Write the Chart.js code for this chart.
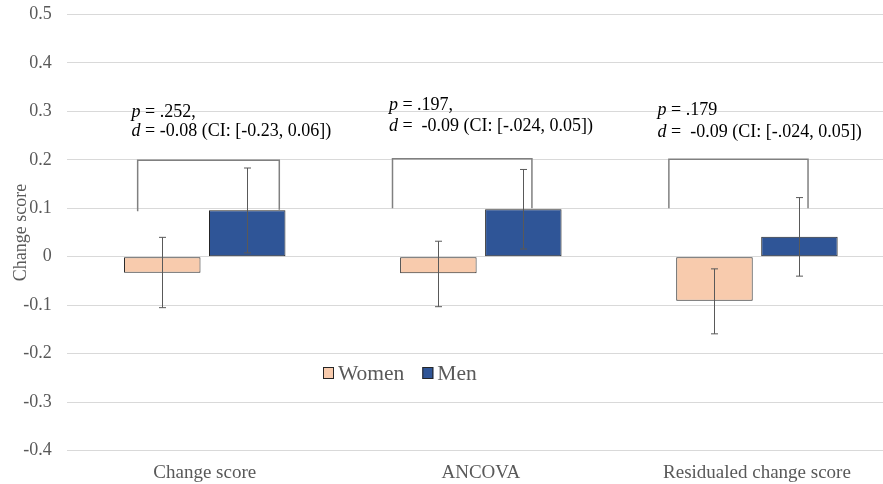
<!DOCTYPE html>
<html>
<head>
<meta charset="utf-8">
<script src="https://cdn.jsdelivr.net/npm/chart.js@4.4.1/dist/chart.umd.min.js"></script>
<style>
    html, body { margin: 0; padding: 0; overflow: hidden; background: #fff; }
    #wrap { position: relative; width: 896px; height: 484px; }
</style>
</head>
<body>
<div id="wrap"><canvas id="chart"></canvas></div>
<script>
const categories = ["Change score", "ANCOVA", "Residualed change score"];
const yTicks = [-0.4, 0.5, 0.1];

const womenMeans = [-0.033, -0.034, -0.091];
const womenLow = [-0.105, -0.103, -0.159];
const womenHigh = [0.040, 0.032, -0.025];

const menMeans = [0.096, 0.098, 0.041];
const menLow = [0.008, 0.016, -0.040];
const menHigh = [0.183, 0.180, 0.122];

// significance brackets (x as fraction of a category width, y in data units)
const bracketLeftX = [-0.243, -0.320, -0.319];
const bracketRightX = [0.270, 0.185, 0.185];
const bracketTop = [0.199, 0.202, 0.201];
const bracketLeftEnd = [0.094, 0.100, 0.100];
const bracketRightEnd = [0.097, 0.100, 0.100];

const statP = [".252,", ".197,", ".179"];
const statD = [" = -0.08 (CI: [-0.23, 0.06])", " =  -0.09 (CI: [-.024, 0.05])", " =  -0.09 (CI: [-.024, 0.05])"];
const statX = [-0.265, -0.333, -0.360];
const statPLine = [0.289, 0.303, 0.293];
const statDLine = [0.248, 0.260, 0.247];

const SERIF = "'Liberation Serif', 'Times New Roman', serif";
const GREY = "#595959";

const catOffset = (scale, i, frac) =>
    scale.getPixelForValue(i) + frac * (scale.width / categories.length);

const extrasPlugin = {
    id: "extras",
    afterDatasetsDraw(chart) {
        const ctx = chart.ctx;
        const xs = chart.scales.x;
        const ys = chart.scales.y;

        // error bars
        const errs = [[womenLow, womenHigh], [menLow, menHigh]];
        ctx.save();
        ctx.strokeStyle = GREY;
        ctx.lineWidth = 1;
        errs.forEach(([lo, hi], d) => {
            chart.getDatasetMeta(d).data.forEach((bar, i) => {
                const x = Math.round(bar.x) + 0.5;
                const yT = ys.getPixelForValue(hi[i]);
                const yB = ys.getPixelForValue(lo[i]);
                ctx.beginPath();
                ctx.moveTo(x, yT); ctx.lineTo(x, yB);
                ctx.moveTo(x - 3.5, yT); ctx.lineTo(x + 3.5, yT);
                ctx.moveTo(x - 3.5, yB); ctx.lineTo(x + 3.5, yB);
                ctx.stroke();
            });
        });

        // brackets
        ctx.strokeStyle = "#808080";
        ctx.lineWidth = 1.5;
        categories.forEach((c, i) => {
            const xl = catOffset(xs, i, bracketLeftX[i]);
            const xr = catOffset(xs, i, bracketRightX[i]);
            ctx.beginPath();
            ctx.moveTo(xl, ys.getPixelForValue(bracketLeftEnd[i]));
            ctx.lineTo(xl, ys.getPixelForValue(bracketTop[i]));
            ctx.lineTo(xr, ys.getPixelForValue(bracketTop[i]));
            ctx.lineTo(xr, ys.getPixelForValue(bracketRightEnd[i]));
            ctx.stroke();
        });

        // stats text
        ctx.fillStyle = "#000";
        ctx.textBaseline = "alphabetic";
        ctx.textAlign = "left";
        categories.forEach((c, i) => {
            const x = catOffset(xs, i, statX[i]);
            const lines = [["p", " = " + statP[i], statPLine[i]], ["d", statD[i], statDLine[i]]];
            lines.forEach(([it, rest, v]) => {
                const y = ys.getPixelForValue(v);
                ctx.font = "italic 18px " + SERIF;
                ctx.fillText(it, x, y);
                const w = ctx.measureText(it).width;
                ctx.font = "18px " + SERIF;
                ctx.fillText(rest, x + w, y);
            });
        });

        // legend inside the plot
        let lx = 323;
        const ly = 367;
        ctx.font = "21.5px " + SERIF;
        ctx.textBaseline = "middle";
        chart.data.datasets.forEach(ds => {
            ctx.fillStyle = ds.backgroundColor;
            ctx.fillRect(lx, ly, 11, 12);
            ctx.strokeStyle = "#262626";
            ctx.lineWidth = 1;
            ctx.strokeRect(lx + 0.5, ly + 0.5, 10, 11);
            ctx.fillStyle = GREY;
            ctx.fillText(ds.label, lx + 15, ly + 7);
            lx += 15 + ctx.measureText(ds.label).width + 18;
        });
        ctx.restore();
    }
};

new Chart(document.getElementById("chart"), {
    type: "bar",
    data: {
        labels: categories,
        datasets: [
            {
                label: "Women",
                data: womenMeans,
                backgroundColor: "#F8CBAD",
                borderColor: "#262626",
                borderWidth: 1,
                borderSkipped: false,
                categoryPercentage: 0.6155,
                barPercentage: 0.9
            },
            {
                label: "Men",
                data: menMeans,
                backgroundColor: "#2F5597",
                borderColor: "#262626",
                borderWidth: 1,
                borderSkipped: false,
                categoryPercentage: 0.6155,
                barPercentage: 0.9
            }
        ]
    },
    options: {
        responsive: true,
        maintainAspectRatio: false,
        animation: false,
        layout: { padding: { top: 14.3, right: 1, bottom: 0, left: 0 } },
        scales: {
            x: {
                grid: { display: false, drawTicks: false },
                border: { display: false },
                ticks: { color: GREY, font: { family: SERIF, size: 19 }, padding: 10.5, maxRotation: 0 },
                afterFit: scale => {
                    scale.height = 33.3;
                    scale.paddingLeft = 0;
                    scale.paddingRight = 0;
                }
            },
            y: {
                min: yTicks[0],
                max: yTicks[1],
                grid: { color: "#D9D9D9", lineWidth: 1, drawTicks: false },
                border: { display: false },
                ticks: {
                    stepSize: yTicks[2],
                    color: GREY,
                    padding: 15,
                    font: { family: SERIF, size: 18 },
                    callback: v => String(Math.round(v * 10) / 10)
                },
                title: {
                    display: true,
                    text: "Change score",
                    color: GREY,
                    font: { family: SERIF, size: 18 },
                    padding: { top: 10, bottom: 0 }
                },
                afterFit: scale => {
                    scale.width = 66.7;
                    scale.paddingTop = 0;
                    scale.paddingBottom = 0;
                }
            }
        },
        plugins: {
            legend: { display: false },
            tooltip: { enabled: false }
        }
    },
    plugins: [extrasPlugin]
});
</script>
</body>
</html>
